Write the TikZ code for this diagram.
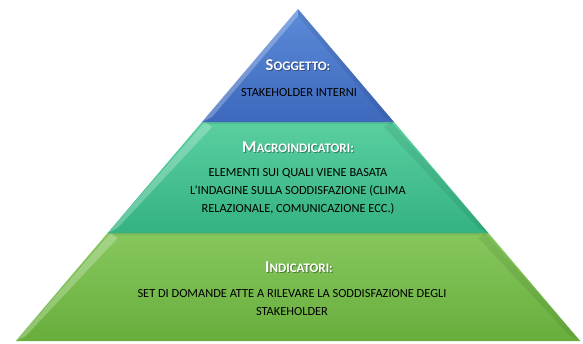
\documentclass[tikz,border=0pt]{standalone}
\usepackage{fontspec}
\setmainfont{Carlito}
\usetikzlibrary{calc}

\definecolor{bluetop}{HTML}{5C8BD8}
\definecolor{bluebot}{HTML}{3D68BC}
\definecolor{tealtop}{HTML}{5ACFA0}
\definecolor{tealbot}{HTML}{34B282}
\definecolor{greentop}{HTML}{86C75E}
\definecolor{greenbot}{HTML}{68AE3C}

\newcommand{\titlesc}[2]{{\fontsize{16.5}{17}\selectfont #1}{\fontsize{13}{15}\selectfont #2}}

\begin{document}
\begin{tikzpicture}[x=1pt,y=-1pt,
    layer/.style={draw=none},
    glint/.style={fill=white,fill opacity=0.25,draw=none},
    dim/.style={fill=black,fill opacity=0.07,draw=none},
    title/.style={text=white,font=\bfseries,inner sep=0pt},
    titleshadow/.style={text=black,text opacity=0.35,font=\bfseries,inner sep=0pt},
    body/.style={text=black,align=center,inner sep=0pt,font=\fontsize{12.4}{17.8}\selectfont}]
  \useasboundingbox (0,0) rectangle (583,343);

  % corners of the pyramid
  \coordinate (apex) at (298,9);
  \coordinate (l1) at (202,122);   \coordinate (r1) at (394,122);
  \coordinate (l2) at (107.6,233); \coordinate (r2) at (488.4,233);
  \coordinate (l3) at (15.8,341);  \coordinate (r3) at (580.2,341);

  % layers
  \shade[layer,top color=greentop,bottom color=greenbot] (l2) -- (r2) -- (r3) -- (l3) -- cycle;
  \shade[layer,top color=tealtop,bottom color=tealbot] (l1) -- (r1) -- (r2) -- (l2) -- cycle;
  \shade[layer,top color=bluetop,bottom color=bluebot] (apex) -- (r1) -- (l1) -- cycle;

  % bevels
  \fill[glint] (apex) -- ($(apex)+(0,7)$) -- ($(l1)+(10,-5)$) -- (l1) -- cycle;
  \fill[dim] (apex) -- ($(apex)+(0,7)$) -- ($(r1)+(-10,-5)$) -- (r1) -- cycle;
  \fill[glint] ($(l1)+(3,0)$) -- ($(l1)+(10,5)$) -- ($(l2)+(10,-5)$) -- (l2) -- cycle;
  \fill[dim] ($(r1)+(-3,0)$) -- ($(r1)+(-10,5)$) -- ($(r2)+(-10,-5)$) -- (r2) -- cycle;
  \fill[glint] ($(l2)+(3,0)$) -- ($(l2)+(10,5)$) -- ($(l3)+(10,-5)$) -- (l3) -- cycle;
  \fill[dim] ($(r2)+(-3,0)$) -- ($(r2)+(-10,5)$) -- ($(r3)+(-10,-5)$) -- (r3) -- cycle;
  \fill[dim] (l1) -- (r1) -- ($(r1)+(-2,2)$) -- ($(l1)+(2,2)$) -- cycle;
  \fill[dim] (l2) -- (r2) -- ($(r2)+(-2,2)$) -- ($(l2)+(2,2)$) -- cycle;

  % texts
  \node[titleshadow] (soggettoshadow) at (299,66) {\titlesc{S}{OGGETTO:}};
  \node[title] (soggetto) at (298,65) {\titlesc{S}{OGGETTO:}};
  \node[body] (soggettotext) at (299,93) {STAKEHOLDER INTERNI};

  \node[titleshadow] (macroshadow) at (299,148) {\titlesc{M}{ACROINDICATORI:}};
  \node[title] (macro) at (298,147) {\titlesc{M}{ACROINDICATORI:}};
  \node[body] (macrotext) at (298,191.5) {ELEMENTI SUI QUALI VIENE BASATA\\
    L'INDAGINE SULLA SODDISFAZIONE (CLIMA\\
    RELAZIONALE, COMUNICAZIONE ECC.)};

  \node[titleshadow] (indicatorishadow) at (300,268) {\titlesc{I}{NDICATORI:}};
  \node[title] (indicatori) at (299,267) {\titlesc{I}{NDICATORI:}};
  \node[body] (indicatoritext) at (292,302.5) {SET DI DOMANDE ATTE A RILEVARE LA SODDISFAZIONE DEGLI\\
    STAKEHOLDER};
\end{tikzpicture}
\end{document}
